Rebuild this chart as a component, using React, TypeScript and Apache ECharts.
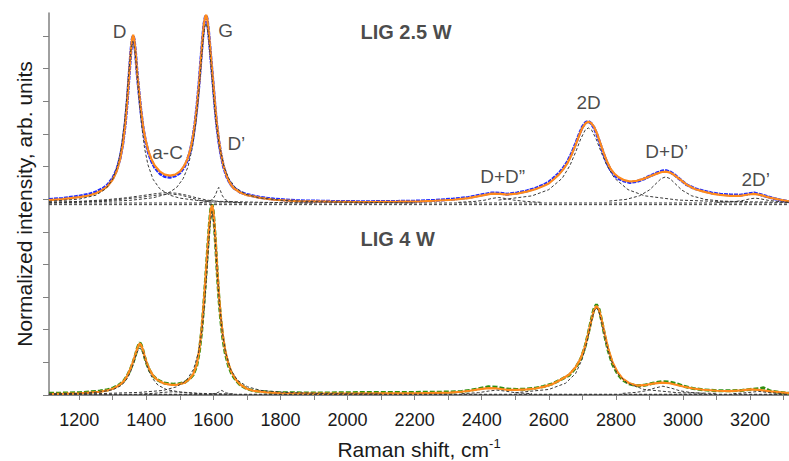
import React, { useEffect, useRef } from "react";
import * as echarts from "echarts";

const X_MIN = 1110;
const X_MAX = 3316;
const Y_MAX = 11.7;
const X_TICKS = [1200, 1300, 1400, 1500, 1600, 1700, 1800, 1900, 2000, 2100, 2200, 2300, 2400, 2500, 2600, 2700, 2800, 2900, 3000, 3100, 3200, 3300];
const X_LABELS = [1200, 1400, 1600, 1800, 2000, 2200, 2400, 2600, 2800, 3000, 3200];
const Y_MAJOR = [0, 1, 2, 3, 4, 5, 6, 7, 8, 9, 10, 11];
const Y_MINOR = [0.5, 1.5, 2.5, 3.5, 4.5, 5.5, 6.5, 7.5, 8.5, 9.5, 10.5, 11.5];

const TOP_OFFSET = 5.88;
const BOTTOM_OFFSET = 0.02;

// ---- LIG 2.5 W (heights above TOP_OFFSET) ----
const TOP_DATA = [
  [1110, 0.11], [1150, 0.14], [1200, 0.21], [1230, 0.27], [1250, 0.34], [1270, 0.44], [1285, 0.56], [1300, 0.76], [1312, 1.02], [1322, 1.38],
  [1330, 1.82], [1337, 2.4], [1343, 3.08], [1349, 3.93], [1354, 4.64], [1358, 5.02], [1361, 5.12], [1364, 5.0], [1368, 4.6], [1373, 3.93],
  [1378, 3.42], [1384, 2.82], [1391, 2.26], [1398, 1.88], [1406, 1.55], [1415, 1.3], [1425, 1.09], [1441, 0.9], [1455, 0.81], [1471, 0.79],
  [1486, 0.83], [1501, 0.93], [1512, 1.08], [1521, 1.27], [1530, 1.55], [1538, 1.93], [1545, 2.42], [1551, 2.96], [1557, 3.62], [1563, 4.42],
  [1568, 5.05], [1572, 5.48], [1576, 5.7], [1579, 5.74], [1582, 5.6], [1586, 5.22], [1590, 4.76], [1595, 4.15], [1600, 3.56], [1605, 2.94],
  [1610, 2.4], [1616, 1.9], [1622, 1.52], [1630, 1.12], [1640, 0.8], [1650, 0.6], [1660, 0.47], [1680, 0.33], [1700, 0.26], [1740, 0.17],
  [1780, 0.12], [1850, 0.07], [1950, 0.05], [2050, 0.04], [2150, 0.05], [2216, 0.06], [2260, 0.08], [2315, 0.12], [2360, 0.17], [2395, 0.24],
  [2430, 0.31], [2455, 0.3], [2475, 0.27], [2505, 0.31], [2534, 0.37], [2560, 0.45], [2584, 0.55], [2600, 0.64], [2614, 0.76], [2630, 0.91],
  [2643, 1.07], [2656, 1.27], [2668, 1.52], [2680, 1.82], [2690, 2.09], [2700, 2.33], [2710, 2.47], [2718, 2.5], [2726, 2.44], [2735, 2.3],
  [2744, 2.08], [2752, 1.84], [2763, 1.51], [2773, 1.24], [2783, 1.03], [2795, 0.86], [2808, 0.75], [2825, 0.67], [2842, 0.63], [2862, 0.66],
  [2882, 0.73], [2902, 0.83], [2922, 0.92], [2937, 0.98], [2950, 0.99], [2962, 0.95], [2975, 0.86], [2990, 0.73], [3011, 0.56], [3035, 0.44],
  [3061, 0.37], [3085, 0.31], [3111, 0.27], [3140, 0.25], [3170, 0.24], [3195, 0.28], [3212, 0.31], [3230, 0.26], [3250, 0.2], [3270, 0.14],
  [3290, 0.09], [3316, 0.04],
];
const TOP_FIT = [
  [1110, 0.09], [1150, 0.12], [1200, 0.18], [1230, 0.23], [1250, 0.3], [1270, 0.4], [1285, 0.52], [1300, 0.72], [1312, 0.98], [1322, 1.35],
  [1330, 1.8], [1337, 2.4], [1343, 3.1], [1349, 3.95], [1354, 4.65], [1358, 5.05], [1361, 5.15], [1364, 5.02], [1368, 4.62], [1373, 3.95],
  [1378, 3.45], [1384, 2.85], [1391, 2.3], [1398, 1.92], [1406, 1.6], [1415, 1.35], [1425, 1.15], [1441, 0.96], [1455, 0.87], [1471, 0.84],
  [1486, 0.87], [1501, 0.97], [1512, 1.12], [1521, 1.3], [1530, 1.58], [1538, 1.95], [1545, 2.42], [1551, 2.95], [1557, 3.6], [1563, 4.4],
  [1568, 5.05], [1572, 5.5], [1576, 5.72], [1579, 5.76], [1582, 5.62], [1586, 5.25], [1590, 4.8], [1595, 4.2], [1600, 3.62], [1605, 3.0],
  [1610, 2.45], [1616, 1.95], [1622, 1.55], [1630, 1.15], [1640, 0.82], [1650, 0.6], [1660, 0.46], [1680, 0.32], [1700, 0.24], [1740, 0.16],
  [1780, 0.1], [1850, 0.06], [1950, 0.04], [2050, 0.03], [2150, 0.04], [2216, 0.05], [2260, 0.07], [2315, 0.1], [2360, 0.15], [2395, 0.22],
  [2430, 0.29], [2455, 0.28], [2475, 0.26], [2505, 0.29], [2534, 0.35], [2560, 0.42], [2584, 0.52], [2600, 0.6], [2614, 0.72], [2630, 0.87],
  [2643, 1.03], [2656, 1.23], [2668, 1.48], [2680, 1.78], [2690, 2.06], [2700, 2.3], [2710, 2.45], [2718, 2.49], [2726, 2.45], [2735, 2.33],
  [2744, 2.12], [2752, 1.88], [2763, 1.55], [2773, 1.28], [2783, 1.07], [2795, 0.9], [2808, 0.79], [2825, 0.7], [2842, 0.66], [2862, 0.68],
  [2882, 0.74], [2902, 0.82], [2922, 0.9], [2937, 0.95], [2950, 0.96], [2962, 0.93], [2975, 0.85], [2990, 0.73], [3011, 0.56], [3035, 0.43],
  [3061, 0.35], [3085, 0.29], [3111, 0.25], [3140, 0.22], [3170, 0.22], [3195, 0.26], [3212, 0.28], [3230, 0.25], [3250, 0.19], [3270, 0.14],
  [3290, 0.1], [3316, 0.05],
];
const TOP_D = [
  [1110, 0.05], [1200, 0.12], [1250, 0.24], [1280, 0.44], [1300, 0.73], [1315, 1.17], [1325, 1.67], [1335, 2.48], [1342, 3.26], [1348, 4.02],
  [1354, 4.68], [1360, 4.95], [1366, 4.68], [1372, 4.02], [1378, 3.26], [1385, 2.48], [1395, 1.67], [1405, 1.17], [1420, 0.73], [1440, 0.44],
  [1470, 0.24], [1500, 0.15], [1550, 0.08], [1620, 0.05], [1750, 0.02], [1900, 0.0],
];
const TOP_G = [
  [1110, 0.02], [1250, 0.04], [1350, 0.08], [1420, 0.16], [1460, 0.27], [1490, 0.47], [1510, 0.75], [1524, 1.1], [1538, 1.72], [1548, 2.46],
  [1556, 3.31], [1563, 4.2], [1569, 4.95], [1574, 5.38], [1578, 5.5], [1582, 5.38], [1587, 4.95], [1593, 4.2], [1600, 3.31], [1608, 2.46],
  [1618, 1.72], [1632, 1.1], [1646, 0.75], [1666, 0.47], [1696, 0.27], [1736, 0.16], [1806, 0.08], [1906, 0.04], [2050, 0.02], [2200, 0.0],
];
const TOP_AC = [
  [1110, 0.02], [1200, 0.05], [1280, 0.1], [1340, 0.16], [1390, 0.23], [1430, 0.29], [1460, 0.32], [1490, 0.3], [1520, 0.24], [1550, 0.16],
  [1580, 0.09], [1620, 0.04], [1680, 0.01],
];
const TOP_AC2 = [
  [1110, 0.0], [1200, 0.03], [1300, 0.09], [1380, 0.17], [1430, 0.24], [1470, 0.28], [1500, 0.25], [1530, 0.17], [1560, 0.08], [1600, 0.02],
];
const TOP_DP = [
  [1560, 0.01], [1585, 0.05], [1598, 0.11], [1606, 0.24], [1611, 0.38], [1616, 0.48], [1621, 0.38], [1626, 0.24], [1634, 0.11], [1647, 0.05],
  [1670, 0.02], [1700, 0.0],
];
const TOP_DDPP = [
  [2330, 0.02], [2380, 0.05], [2410, 0.09], [2430, 0.14], [2450, 0.17], [2470, 0.14], [2495, 0.09], [2530, 0.05], [2580, 0.02],
];
const TOP_2D = [
  [2450, 0.09], [2550, 0.22], [2600, 0.41], [2640, 0.76], [2663, 1.15], [2680, 1.56], [2695, 1.96], [2708, 2.23], [2718, 2.3], [2728, 2.23],
  [2741, 1.96], [2756, 1.56], [2773, 1.15], [2796, 0.76], [2836, 0.41], [2886, 0.22], [2986, 0.09], [3100, 0.05], [3316, 0.02],
];
const TOP_DDP = [
  [2780, 0.06], [2830, 0.11], [2870, 0.22], [2900, 0.4], [2920, 0.6], [2935, 0.75], [2948, 0.8], [2961, 0.75], [2976, 0.6], [2996, 0.4],
  [3026, 0.22], [3066, 0.11], [3116, 0.06], [3200, 0.03],
];
const TOP_2DP = [
  [3100, 0.02], [3150, 0.04], [3180, 0.08], [3200, 0.13], [3215, 0.15], [3230, 0.13], [3255, 0.08], [3290, 0.04], [3316, 0.02],
];

// ---- LIG 4 W (absolute values) ----
const BOTTOM_DATA = [
  [1110, 0.05], [1160, 0.06], [1202, 0.07], [1262, 0.12], [1285, 0.16], [1302, 0.22], [1318, 0.3], [1332, 0.42], [1343, 0.58], [1352, 0.77],
  [1360, 0.98], [1367, 1.2], [1373, 1.42], [1378, 1.56], [1381, 1.6], [1385, 1.53], [1390, 1.37], [1396, 1.13], [1403, 0.92], [1410, 0.75],
  [1420, 0.59], [1432, 0.47], [1451, 0.37], [1470, 0.34], [1481, 0.33], [1495, 0.34], [1515, 0.39], [1530, 0.5], [1540, 0.62], [1550, 0.88],
  [1558, 1.32], [1565, 1.95], [1571, 2.7], [1577, 3.58], [1583, 4.5], [1588, 5.22], [1592, 5.68], [1596, 5.84], [1600, 5.6], [1604, 5.05],
  [1608, 4.38], [1612, 3.66], [1617, 2.9], [1622, 2.3], [1628, 1.75], [1635, 1.3], [1645, 0.9], [1655, 0.64], [1668, 0.44], [1680, 0.31],
  [1700, 0.19], [1719, 0.13], [1760, 0.09], [1800, 0.07], [1908, 0.06], [2000, 0.07], [2107, 0.08], [2200, 0.08], [2306, 0.09], [2340, 0.11],
  [2365, 0.14], [2395, 0.2], [2420, 0.25], [2445, 0.24], [2475, 0.18], [2505, 0.17], [2534, 0.18], [2560, 0.21], [2584, 0.26], [2610, 0.34],
  [2634, 0.46], [2660, 0.6], [2680, 0.83], [2695, 1.1], [2707, 1.44], [2717, 1.86], [2726, 2.28], [2734, 2.62], [2742, 2.77], [2750, 2.62],
  [2758, 2.26], [2767, 1.8], [2777, 1.36], [2790, 0.94], [2805, 0.65], [2820, 0.46], [2840, 0.34], [2862, 0.28], [2885, 0.3], [2910, 0.36],
  [2937, 0.41], [2960, 0.4], [2985, 0.33], [3001, 0.27], [3030, 0.2], [3060, 0.16], [3101, 0.13], [3140, 0.13], [3175, 0.14], [3200, 0.17],
  [3225, 0.19], [3240, 0.22], [3260, 0.12], [3290, 0.08], [3316, 0.05],
];
const BOTTOM_FIT = [
  [1110, 0.03], [1160, 0.04], [1202, 0.05], [1262, 0.1], [1285, 0.14], [1302, 0.2], [1318, 0.29], [1332, 0.41], [1343, 0.58], [1352, 0.78],
  [1360, 1.0], [1367, 1.22], [1373, 1.42], [1378, 1.54], [1381, 1.58], [1385, 1.52], [1390, 1.38], [1396, 1.15], [1403, 0.94], [1410, 0.77],
  [1420, 0.6], [1432, 0.47], [1451, 0.36], [1470, 0.32], [1481, 0.31], [1495, 0.32], [1515, 0.38], [1530, 0.5], [1540, 0.64], [1550, 0.92],
  [1558, 1.38], [1565, 2.0], [1571, 2.75], [1577, 3.6], [1583, 4.5], [1588, 5.2], [1592, 5.65], [1596, 5.82], [1600, 5.62], [1604, 5.1],
  [1608, 4.45], [1612, 3.75], [1617, 3.0], [1622, 2.4], [1628, 1.85], [1635, 1.38], [1645, 0.95], [1655, 0.68], [1668, 0.46], [1680, 0.32],
  [1700, 0.19], [1719, 0.13], [1760, 0.08], [1800, 0.06], [1908, 0.04], [2000, 0.04], [2107, 0.05], [2200, 0.05], [2306, 0.07], [2340, 0.1],
  [2365, 0.13], [2395, 0.18], [2420, 0.21], [2445, 0.2], [2475, 0.16], [2505, 0.16], [2534, 0.17], [2560, 0.2], [2584, 0.25], [2610, 0.33],
  [2634, 0.46], [2660, 0.62], [2680, 0.85], [2695, 1.12], [2707, 1.45], [2717, 1.85], [2726, 2.25], [2734, 2.58], [2742, 2.73], [2750, 2.6],
  [2758, 2.28], [2767, 1.85], [2777, 1.42], [2790, 1.0], [2805, 0.7], [2820, 0.5], [2840, 0.36], [2862, 0.29], [2885, 0.3], [2910, 0.35],
  [2937, 0.38], [2960, 0.36], [2985, 0.3], [3001, 0.26], [3030, 0.2], [3060, 0.16], [3101, 0.13], [3140, 0.12], [3175, 0.14], [3200, 0.17],
  [3225, 0.16], [3260, 0.11], [3290, 0.08], [3316, 0.06],
];
const BOTTOM_D = [
  [1110, 0.01], [1200, 0.03], [1260, 0.07], [1300, 0.14], [1327, 0.28], [1343, 0.48], [1354, 0.71], [1363, 0.98], [1372, 1.28], [1381, 1.42],
  [1390, 1.28], [1399, 0.98], [1408, 0.71], [1419, 0.48], [1435, 0.28], [1462, 0.14], [1502, 0.07], [1562, 0.03], [1650, 0.01],
];
const BOTTOM_G = [
  [1110, 0.01], [1250, 0.02], [1380, 0.06], [1450, 0.12], [1490, 0.23], [1520, 0.43], [1541, 0.77], [1556, 1.3], [1566, 1.96], [1574, 2.8],
  [1580, 3.66], [1585, 4.48], [1590, 5.21], [1596, 5.6], [1602, 5.21], [1607, 4.48], [1612, 3.66], [1618, 2.8], [1626, 1.96], [1636, 1.3],
  [1651, 0.77], [1672, 0.43], [1702, 0.23], [1742, 0.12], [1812, 0.06], [1942, 0.02], [2100, 0.01],
];
const BOTTOM_AC = [
  [1380, 0.01], [1420, 0.03], [1450, 0.06], [1480, 0.08], [1510, 0.06], [1540, 0.03], [1580, 0.01],
];
const BOTTOM_DP = [
  [1595, 0.01], [1610, 0.04], [1618, 0.08], [1625, 0.12], [1632, 0.08], [1640, 0.04], [1660, 0.01],
];
const BOTTOM_DDPP = [
  [2340, 0.02], [2390, 0.05], [2420, 0.1], [2445, 0.13], [2470, 0.1], [2500, 0.05], [2550, 0.02],
];
const BOTTOM_2D = [
  [2500, 0.05], [2600, 0.15], [2650, 0.34], [2680, 0.64], [2700, 1.09], [2714, 1.62], [2726, 2.19], [2735, 2.55], [2742, 2.65], [2749, 2.55],
  [2758, 2.19], [2770, 1.62], [2784, 1.09], [2804, 0.64], [2834, 0.34], [2884, 0.15], [2984, 0.05], [3100, 0.03],
];
const BOTTOM_DDP = [
  [2820, 0.03], [2860, 0.06], [2890, 0.11], [2915, 0.19], [2940, 0.25], [2965, 0.19], [2990, 0.11], [3020, 0.06], [3060, 0.03],
];
const BOTTOM_2DP = [
  [3150, 0.02], [3190, 0.05], [3225, 0.09], [3260, 0.05], [3300, 0.02],
];

const PEAK_LABELS = [
  { text: "D", x: 1322, y: 11.12 },
  { text: "G", x: 1638, y: 11.15 },
  { text: "a-C", x: 1465, y: 7.41 },
  { text: "D\u2019", x: 1670, y: 7.69 },
  { text: "2D", x: 2720, y: 8.94 },
  { text: "D+D\u201d", x: 2464, y: 6.68 },
  { text: "D+D\u2019", x: 2953, y: 7.44 },
  { text: "2D\u2019", x: 3218, y: 6.59 },
];
const PANEL_TITLES = [
  { text: "LIG 2.5 W", x: 2040, y: 11.09 },
  { text: "LIG 4 W", x: 2040, y: 4.75 },
];

const FONT = "'Liberation Sans', Arial, Helvetica, sans-serif";
const BLUE = "#1f2bff";
const GREEN = "#2f8f0f";
const ORANGE = "#ff8a1c";
const DASH = "#3a3a3a";
const AXIS = "#808080";
const TEXT = "#1a1a1a";

const shift = (pts: number[][], off: number) => pts.map(([x, y]) => [x, +(y + off).toFixed(3)]);

const lineSeries = (data: number[][], color: string, width: number, type: any, z: number) => ({
  type: "line",
  data,
  symbol: "none",
  showSymbol: false,
  silent: true,
  z,
  lineStyle: { color, width, type },
});

export default function App() {
  const ref = useRef<HTMLDivElement>(null);
  useEffect(() => {
    if (!ref.current) return;
    const chart = echarts.init(ref.current, null, { renderer: "svg" });
    const dashed = [3, 2];
    const topComps = [TOP_D, TOP_G, TOP_AC, TOP_AC2, TOP_DP, TOP_DDPP, TOP_2D, TOP_DDP, TOP_2DP];
    const botComps = [BOTTOM_D, BOTTOM_G, BOTTOM_AC, BOTTOM_DP, BOTTOM_DDPP, BOTTOM_2D, BOTTOM_DDP, BOTTOM_2DP];
    const series: any[] = [
      lineSeries(shift(TOP_DATA, TOP_OFFSET), BLUE, 3, [4, 1], 2),
      lineSeries(shift(TOP_FIT, TOP_OFFSET), ORANGE, 2.2, "solid", 3),
      lineSeries(BOTTOM_DATA, GREEN, 3, [5, 2], 2),
      lineSeries(BOTTOM_FIT, ORANGE, 2.2, "solid", 3),
      ...topComps.map((c) => lineSeries(shift(c, TOP_OFFSET), DASH, 1, dashed, 4)),
      ...botComps.map((c) => lineSeries(shift(c, BOTTOM_OFFSET), DASH, 1, dashed, 4)),
      lineSeries([[X_MIN, TOP_OFFSET], [X_MAX, TOP_OFFSET]], DASH, 1.2, dashed, 4),
      lineSeries([[X_MIN, TOP_OFFSET - 0.05], [X_MAX, TOP_OFFSET - 0.05]], DASH, 1, dashed, 4),
      lineSeries([[X_MIN, BOTTOM_OFFSET], [X_MAX, BOTTOM_OFFSET]], DASH, 1.2, dashed, 4),
      {
        type: "scatter",
        silent: true,
        symbolSize: 1,
        itemStyle: { color: "rgba(0,0,0,0)" },
        z: 10,
        data: PEAK_LABELS.map((p) => ({ value: [p.x, p.y], name: p.text })),
        label: {
          show: true,
          position: [0, 0],
          align: "center",
          verticalAlign: "middle",
          formatter: (p: any) => p.name,
          color: TEXT,
          fontSize: 19,
          fontFamily: FONT,
        },
      },
      {
        type: "scatter",
        silent: true,
        symbolSize: 1,
        itemStyle: { color: "rgba(0,0,0,0)" },
        z: 10,
        data: PANEL_TITLES.map((p) => ({ value: [p.x, p.y], name: p.text })),
        label: {
          show: true,
          position: [0, 0],
          align: "left",
          verticalAlign: "middle",
          formatter: (p: any) => p.name,
          color: TEXT,
          fontSize: 20,
          fontWeight: "bold",
          fontFamily: FONT,
        },
      },
    ];
    chart.setOption({
      animation: false,
      grid: { left: 49, right: 0, top: 13, bottom: 66, containLabel: false, outerBoundsMode: "none" },
      xAxis: [
        {
          type: "value",
          min: X_MIN,
          max: X_MAX,
          position: "bottom",
          axisLine: { show: true, lineStyle: { color: AXIS, width: 1.5 } },
          axisTick: { show: true, length: 5, lineStyle: { color: AXIS }, customValues: X_TICKS },
          axisLabel: {
            show: true,
            customValues: X_LABELS,
            formatter: (v: number) => String(v),
            color: TEXT,
            fontSize: 18,
            fontFamily: FONT,
            margin: 16,
          },
          splitLine: { show: false },
          name: "{a|Raman shift, cm}{b|-1}",
          nameLocation: "middle",
          nameGap: 42,
          nameTextStyle: {
            color: TEXT,
            fontFamily: FONT,
            rich: {
              a: { fontSize: 21, fontFamily: FONT, color: TEXT, lineHeight: 24 },
              b: { fontSize: 13, fontFamily: FONT, color: TEXT, verticalAlign: "top", lineHeight: 15 },
            },
          },
        },
        {
          type: "value",
          min: X_MIN,
          max: X_MAX,
          position: "top",
          axisLine: { show: true, lineStyle: { color: AXIS, width: 1.5 } },
          axisTick: { show: false },
          axisLabel: { show: false },
          splitLine: { show: false },
        },
      ],
      yAxis: [
        {
          type: "value",
          min: 0,
          max: Y_MAX,
          axisLine: { show: true, lineStyle: { color: AXIS, width: 1.5 } },
          axisTick: { show: true, length: 6, lineStyle: { color: AXIS }, customValues: Y_MAJOR },
          axisLabel: { show: false },
          splitLine: { show: false },
          name: "Normalized intensity, arb. units",
          nameLocation: "middle",
          nameGap: 14,
          nameTextStyle: { color: TEXT, fontSize: 21, fontFamily: FONT },
        },
        {
          type: "value",
          min: 0,
          max: Y_MAX,
          axisLine: { show: false },
          axisTick: { show: true, length: 3, lineStyle: { color: AXIS }, customValues: Y_MINOR },
          axisLabel: { show: false },
          splitLine: { show: false },
        },
      ],
      series,
    });
    return () => chart.dispose();
  }, []);
  return <div ref={ref} style={{ width: 789, height: 461, position: "absolute", left: 0, top: 0, background: "#fff" }} />;
}
